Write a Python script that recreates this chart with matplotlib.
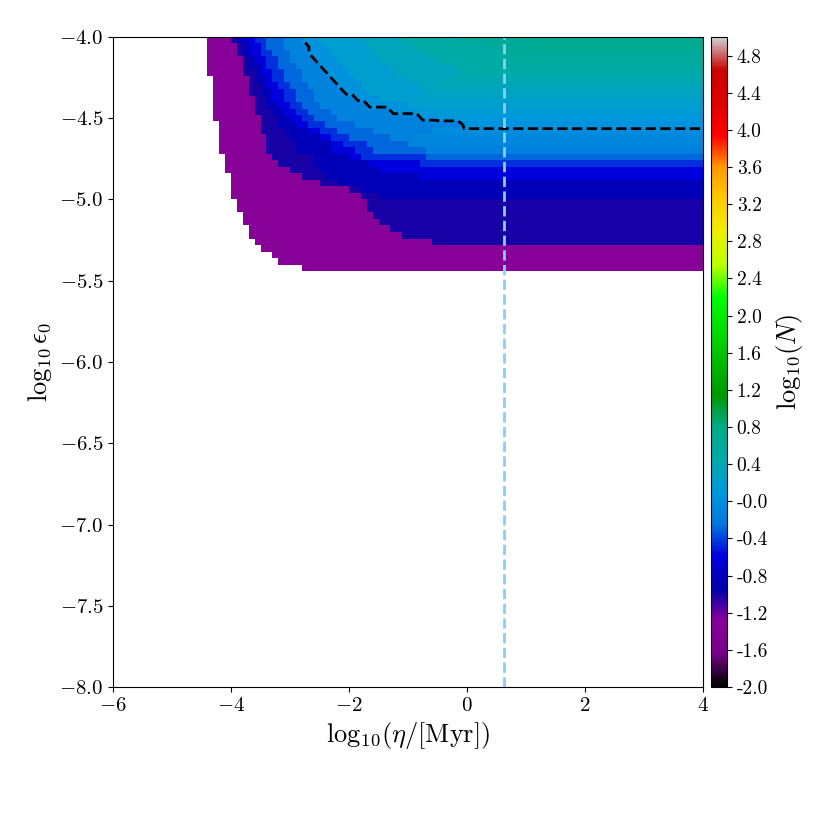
import numpy as np
import matplotlib
matplotlib.use("Agg")
import matplotlib.pyplot as plt

plt.rcParams['font.family'] = 'serif'
plt.rcParams['font.serif'] = ['cmr10']
plt.rcParams['mathtext.fontset'] = 'cm'
plt.rcParams['axes.formatter.use_mathtext'] = True

# grid of log10(eta) x log10(eps0), 100 x 100 cells
x_edges = np.linspace(-6, 4, 101)
y_edges = np.linspace(-4, -8, 101)

# per-row data, row 0 is the top row (log eps0 = -4.02), 36 rows hold values
# left edge of the filled region (everything left of it is empty)
edge_x = [-4.4, -4.4, -4.4, -4.4, -4.4, -4.4, -4.3, -4.3, -4.3, -4.3, -4.3, -4.3,
          -4.3, -4.2, -4.2, -4.2, -4.2, -4.2, -4.1, -4.1, -4.1, -4.0, -4.0, -4.0,
          -4.0, -3.9, -3.9, -3.8, -3.8, -3.7, -3.7, -3.6, -3.5, -3.3, -3.2, -2.8]
# value reached far to the right (large eta) and where it is reached
plateau = [0.74, 0.69, 0.63, 0.58, 0.52, 0.47, 0.41, 0.36, 0.30, 0.25, 0.19, 0.14,
           0.08, 0.03, -0.02, -0.06, -0.10, -0.15, -0.30, -0.45, -0.60, -0.60, -0.85, -0.85,
           -0.85, -1.0, -1.0, -1.0, -1.0, -1.0, -1.0, -1.0, -1.3, -1.3, -1.3, -1.3]
plateau_x = [1.2, 1.0, 0.6, 0.4, 0.2, -0.1, -0.3, -0.5, -0.7, -0.8, -1.0, -0.8,
             -0.5, -0.1, -0.6, -0.9, -0.9, -0.7, -0.7, -0.8, -1.5, -0.8, -2.2, -1.8,
             -1.5, -1.7, -1.7, -1.6, -1.5, -1.3, -1.1, -0.6, -3.5, -3.3, -3.2, -2.8]
base_value = -1.3

# x where each level of log10(N) is first reached along a row (9 = never)
level_values = [-1.0, -0.85, -0.6, -0.45, -0.3, -0.12, 0.05, 0.2, 0.35, 0.5, 0.65]
start_m100 = [-4.0, -3.9, -3.9, -3.8, -3.8, -3.8, -3.7, -3.7, -3.7, -3.6, -3.6, -3.6,
              -3.5, -3.5, -3.5, -3.4, -3.4, -3.4, -3.3, -3.2, -3.0, -2.8, -2.5, -2.0,
              -1.8, -1.7, -1.7, -1.6, -1.5, -1.3, -1.1, -0.6, 9, 9, 9, 9]
start_m085 = [-3.9, -3.8, -3.8, -3.7, -3.7, -3.6, -3.6, -3.5, -3.5, -3.4, -3.4, -3.3,
              -3.2, -3.2, -3.1, -3.0, -2.9, -2.9, -2.6, -2.6, -2.5, -2.4, -2.2, -1.8,
              -1.5, 9, 9, 9, 9, 9, 9, 9, 9, 9, 9, 9]
start_m060 = [-3.8, -3.7, -3.7, -3.6, -3.5, -3.5, -3.4, -3.4, -3.3, -3.3, -3.2, -3.1,
              -3.0, -2.9, -2.7, -2.5, -2.3, -2.3, -2.0, -1.7, -1.5, -0.8, 9, 9,
              9, 9, 9, 9, 9, 9, 9, 9, 9, 9, 9, 9]
start_m045 = [-3.6, -3.5, -3.5, -3.4, -3.4, -3.3, -3.3, -3.2, -3.1, -3.1, -3.0, -2.9,
              -2.8, -2.7, -2.5, -2.3, -2.1, -1.9, -1.8, -0.8, 9, 9, 9, 9,
              9, 9, 9, 9, 9, 9, 9, 9, 9, 9, 9, 9]
start_m030 = [-3.4, -3.4, -3.3, -3.2, -3.2, -3.1, -3.1, -3.0, -2.9, -2.9, -2.8, -2.7,
              -2.6, -2.4, -2.2, -2.0, -1.7, -1.6, -0.7, 9, 9, 9, 9, 9,
              9, 9, 9, 9, 9, 9, 9, 9, 9, 9, 9, 9]
start_m012 = [-3.1, -3.1, -3.0, -3.0, -2.9, -2.8, -2.8, -2.7, -2.6, -2.6, -2.5, -2.3,
              -2.2, -1.9, -1.6, -1.3, -1.0, -0.7, 9, 9, 9, 9, 9, 9,
              9, 9, 9, 9, 9, 9, 9, 9, 9, 9, 9, 9]
start_p005 = [-2.8, -2.7, -2.7, -2.6, -2.5, -2.4, -2.3, -2.2, -2.1, -1.9, -1.7, -1.3,
              -0.8, -0.1, 9, 9, 9, 9, 9, 9, 9, 9, 9, 9,
              9, 9, 9, 9, 9, 9, 9, 9, 9, 9, 9, 9]
start_p020 = [-2.5, -2.4, -2.3, -2.2, -2.1, -2.0, -1.9, -1.8, -1.7, -1.5, 9, 9,
              9, 9, 9, 9, 9, 9, 9, 9, 9, 9, 9, 9,
              9, 9, 9, 9, 9, 9, 9, 9, 9, 9, 9, 9]
start_p035 = [-1.8, -1.7, -1.6, -1.5, -1.3, -1.2, -1.0, -0.8, 9, 9, 9, 9,
              9, 9, 9, 9, 9, 9, 9, 9, 9, 9, 9, 9,
              9, 9, 9, 9, 9, 9, 9, 9, 9, 9, 9, 9]
start_p050 = [-1.1, -0.9, -0.7, -0.5, -0.2, 9, 9, 9, 9, 9, 9, 9,
              9, 9, 9, 9, 9, 9, 9, 9, 9, 9, 9, 9,
              9, 9, 9, 9, 9, 9, 9, 9, 9, 9, 9, 9]
start_p065 = [-0.1, 0.3, 9, 9, 9, 9, 9, 9, 9, 9, 9, 9,
              9, 9, 9, 9, 9, 9, 9, 9, 9, 9, 9, 9,
              9, 9, 9, 9, 9, 9, 9, 9, 9, 9, 9, 9]

eta_line = 0.63   # vertical reference line, log10(eta)

cbar_ticks = [-2.0, -1.6, -1.2, -0.8, -0.4, 0.0, 0.4, 0.8, 1.2, 1.6, 2.0, 2.4,
              2.8, 3.2, 3.6, 4.0, 4.4, 4.8]
cbar_labels = ['-2.0', '-1.6', '-1.2', '-0.8', '-0.4', '-0.0', '0.4', '0.8', '1.2',
               '1.6', '2.0', '2.4', '2.8', '3.2', '3.6', '4.0', '4.4', '4.8']

# build the field
starts = np.array([start_m100, start_m085, start_m060, start_m045, start_m030,
                   start_m012, start_p005, start_p020, start_p035, start_p050, start_p065])
xc = 0.5 * (x_edges[:-1] + x_edges[1:])
yc = 0.5 * (y_edges[:-1] + y_edges[1:])
Z = np.full((len(yc), len(xc)), np.nan)
for r in range(len(plateau)):
    for k, x in enumerate(xc):
        if x < edge_x[r]:
            continue
        if x >= plateau_x[r] - 1e-9:
            Z[r, k] = plateau[r]
            continue
        v = base_value
        for lv, st in zip(level_values, starts[:, r]):
            if x >= st - 1e-9:
                v = lv
        Z[r, k] = min(v, plateau[r])
Zm = np.ma.masked_invalid(Z)

fig = plt.figure(figsize=(8.3, 8.3), dpi=100)
ax = fig.add_axes([113 / 830, 1 - 687 / 830, 590 / 830, 650 / 830])
cax = fig.add_axes([711 / 830, 1 - 687 / 830, 16 / 830, 650 / 830])

mesh = ax.pcolormesh(x_edges, y_edges, Zm, cmap='nipy_spectral', vmin=-2, vmax=5)
ax.contour(xc, yc, Zm, levels=[0], colors='k', linestyles='--', linewidths=2)
ax.axvline(eta_line, color='lightskyblue', linestyle='--', linewidth=2)

ax.set_xlim(-6, 4)
ax.set_ylim(-8, -4)
ax.set_xticks([-6, -4, -2, 0, 2, 4])
ax.set_yticks([-8.0, -7.5, -7.0, -6.5, -6.0, -5.5, -5.0, -4.5, -4.0])
ax.tick_params(labelsize=15)
ax.set_xlabel(r'$\mathrm{log}_{10}(\eta/[\mathrm{Myr}])$', fontsize=19)
ax.set_ylabel(r'$\log_{10}\epsilon_0$', fontsize=19)

cb = fig.colorbar(mesh, cax=cax, ticks=cbar_ticks)
cb.ax.set_yticklabels(cbar_labels)
cb.ax.tick_params(labelsize=14)
cb.set_label(r'$\mathrm{log}_{10}(N)$', fontsize=19)

fig.savefig('out.png', dpi=100)
